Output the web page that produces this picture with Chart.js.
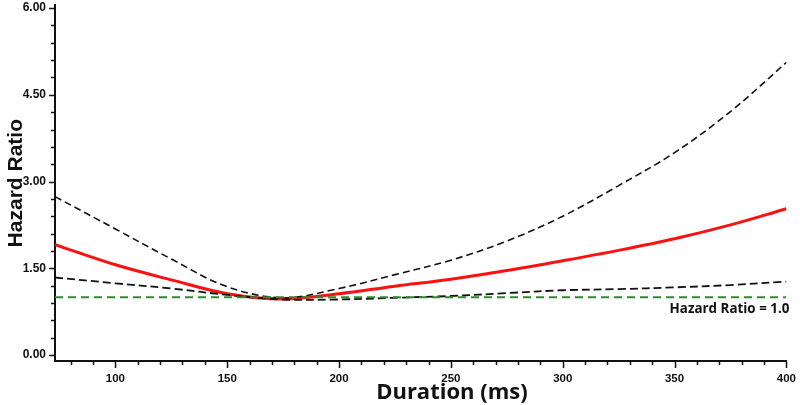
<!DOCTYPE html>
<html lang="en">
<head>
  <meta charset="UTF-8">
  <title>Hazard Ratio vs Duration</title>
  <script src="https://cdn.jsdelivr.net/npm/chart.js@4.4.1/dist/chart.umd.min.js"></script>
  <style>
    html, body { margin: 0; padding: 0; background: #fff; }
    #wrap { width: 800px; height: 405px; }
  </style>
</head>
<body>
  <div id="wrap"><canvas id="hrChart"></canvas></div>
  <script>
    // values
    const durations  = [73, 100, 125, 150, 175, 200, 225, 250, 275, 300, 325, 350, 375, 400];
    const hrEstimate = [1.91, 1.56, 1.30, 1.06, 0.97, 1.06, 1.19, 1.31, 1.46, 1.63, 1.81, 2.01, 2.25, 2.53];
    const hrUpper    = [2.74, 2.18, 1.66, 1.18, 0.99, 1.15, 1.39, 1.64, 1.97, 2.40, 2.93, 3.50, 4.21, 5.06];
    const hrLower    = [1.34, 1.24, 1.15, 1.04, 0.96, 0.96, 0.99, 1.02, 1.07, 1.12, 1.14, 1.17, 1.21, 1.27];
    const refLine    = [1.0, 1.0];
    const refRange   = [73, 400];

    const xMajor = [100, 150, 200, 250, 300, 350, 400];
    const yMajor = [0, 1.5, 3, 4.5, 6];

    function pts(xs, ys) {
      return xs.map((x, i) => ({ x: x, y: ys[i] }));
    }

    function isMajor(list, v) {
      return list.some(m => Math.abs(m - v) < 1e-6);
    }

    // tick marks (long for labelled ticks, short for the others)
    const tickMarks = {
      id: 'tickMarks',
      afterDraw(chart) {
        const ctx = chart.ctx;
        const xs = chart.scales.x, ys = chart.scales.y;
        const a = chart.chartArea;
        ctx.save();
        ctx.strokeStyle = '#111';
        ctx.lineWidth = 1.5;
        ctx.beginPath();
        xs.ticks.forEach(t => {
          const px = Math.round(xs.getPixelForValue(t.value)) + 0.5;
          const len = isMajor(xMajor, t.value) ? 7 : 4;
          ctx.moveTo(px, a.bottom);
          ctx.lineTo(px, a.bottom + len);
        });
        ys.ticks.forEach(t => {
          const py = Math.round(ys.getPixelForValue(t.value)) + 0.5;
          const len = isMajor(yMajor, t.value) ? 6 : 4;
          ctx.moveTo(a.left, py);
          ctx.lineTo(a.left - len, py);
        });
        ctx.stroke();
        ctx.restore();
      }
    };

    // text label next to the reference line + offset x axis title
    const labelsPlugin = {
      id: 'labels',
      afterDraw(chart) {
        const ctx = chart.ctx;
        const xs = chart.scales.x, ys = chart.scales.y;
        ctx.save();
        ctx.fillStyle = '#111';
        ctx.font = 'bold 13.4px "Open Sans"';
        ctx.textAlign = 'right';
        ctx.textBaseline = 'middle';
        ctx.fillText('Hazard Ratio = 1.0', xs.getPixelForValue(400) + 3, ys.getPixelForValue(1.0) + 12);
        ctx.font = 'bold 22px "Open Sans"';
        ctx.textAlign = 'center';
        ctx.fillText('Duration (ms)', xs.getPixelForValue(250) + 1, 393);
        ctx.restore();
      }
    };

    new Chart(document.getElementById('hrChart'), {
      type: 'line',
      data: {
        datasets: [
          {
            data: pts(refRange, refLine),
            borderColor: '#2f8a2f',
            borderWidth: 2,
            borderDash: [8, 5],
            pointRadius: 0
          },
          {
            data: pts(durations, hrUpper),
            borderColor: '#111',
            borderWidth: 1.6,
            borderDash: [7, 4],
            pointRadius: 0,
            tension: 0.35
          },
          {
            data: pts(durations, hrLower),
            borderColor: '#111',
            borderWidth: 1.8,
            borderDash: [8, 4],
            pointRadius: 0,
            tension: 0.35
          },
          {
            data: pts(durations, hrEstimate),
            borderColor: '#ff1010',
            borderWidth: 3,
            pointRadius: 0,
            tension: 0.35
          }
        ]
      },
      options: {
        responsive: true,
        maintainAspectRatio: false,
        animation: false,
        layout: { padding: { top: 0, right: 13, bottom: 0, left: 0 } },
        plugins: {
          legend: { display: false },
          tooltip: { enabled: false }
        },
        scales: {
          x: {
            type: 'linear',
            min: 73,
            max: 400,
            afterFit(scale) { scale.height = 44; },
            afterBuildTicks(scale) {
              const t = [];
              for (let v = 80; v <= 400; v += 10) t.push({ value: v });
              scale.ticks = t;
            },
            ticks: {
              autoSkip: false,
              maxRotation: 0,
              padding: 4,
              color: '#111',
              font: { family: 'Liberation Sans', weight: 'bold', size: 11.5 },
              callback: (v) => (isMajor(xMajor, v) ? String(v) : '')
            },
            grid: { display: false, drawTicks: true, tickLength: 7 },
            border: { display: true, color: '#111', width: 2 }
          },
          y: {
            min: -0.104,
            max: 6.047,
            afterFit(scale) { scale.width = 55; },
            afterBuildTicks(scale) {
              const t = [];
              for (let i = 0; i <= 20; i++) t.push({ value: Math.round(i * 0.3 * 10) / 10 });
              scale.ticks = t;
            },
            ticks: {
              autoSkip: false,
              padding: 3,
              color: '#111',
              font: { family: 'Liberation Sans', weight: 'bold', size: 12, lineHeight: 0.4 },
              callback: (v) => (isMajor(yMajor, v) ? v.toFixed(2) : '')
            },
            grid: { display: false, drawTicks: true, tickLength: 6 },
            border: { display: true, color: '#111', width: 2 },
            title: {
              display: true,
              text: 'Hazard Ratio',
              color: '#111',
              font: { family: 'Liberation Sans', weight: 'bold', size: 21 },
              padding: { top: 4, bottom: 0 }
            }
          }
        }
      },
      plugins: [tickMarks, labelsPlugin]
    });
  </script>
</body>
</html>
